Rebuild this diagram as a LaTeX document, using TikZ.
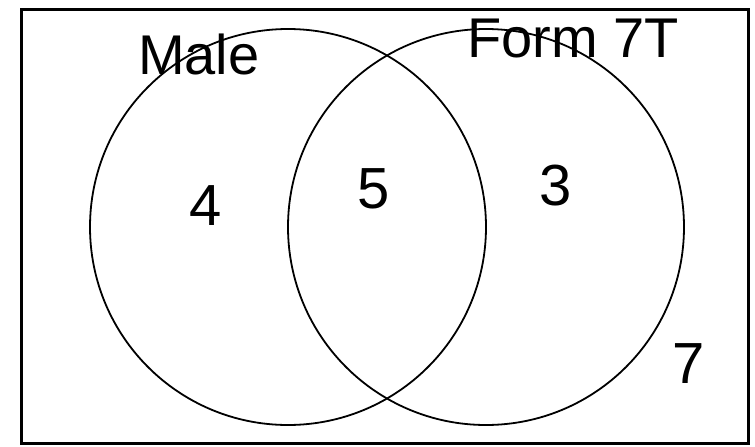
\documentclass[tikz,border=0pt]{standalone}
\usepackage{fontspec}
\setmainfont{Liberation Sans}
\begin{document}
\begin{tikzpicture}[x=1pt,y=-1pt,
  setcircle/.style={circle, draw, line width=1.8pt, minimum size=396pt, inner sep=0pt},
  setlabel/.style={font=\fontsize{56}{60}\selectfont, inner sep=0pt, anchor=base west},
  count/.style={font=\fontsize{58}{62}\selectfont, inner sep=0pt, anchor=base}]
\useasboundingbox (0,0) rectangle (755,447);
\node[draw, line width=3pt, minimum width=727pt, minimum height=434pt, inner sep=0pt] (frame) at (384.5,226.5) {};
\node[setcircle] (male) at (288,227) {};
\node[setcircle] (form) at (486,227) {};
\node[setlabel] (malelabel) at (138,74) {Male};
\node[setlabel] (formlabel) at (467,57) {Form 7T};
\node[count] (onlymale) at (206,225) {4};
\node[count] (both) at (374,208) {5};
\node[count] (onlyform) at (556,205) {3};
\node[count] (neither) at (689,383) {7};
\end{tikzpicture}
\end{document}
